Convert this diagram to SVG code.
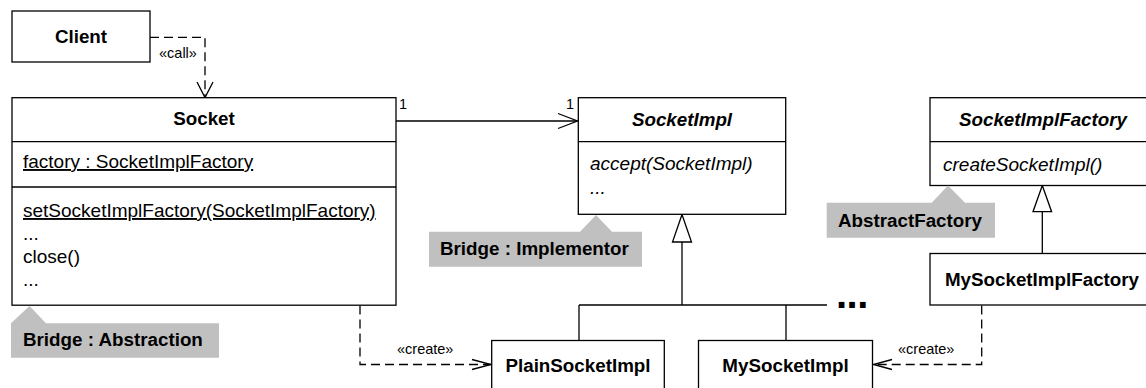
<svg xmlns="http://www.w3.org/2000/svg" width="1146" height="388" viewBox="0 0 1146 388">
  <style>
    .box { fill: #fff; stroke: #000; stroke-width: 1.3; }
    .sep { stroke: #000; stroke-width: 1.3; }
    .note { fill: #c0c0c0; stroke: none; }
    .line { fill: none; stroke: #000; stroke-width: 1.3; }
    .dash { fill: none; stroke: #000; stroke-width: 1.3; stroke-dasharray: 9 5; }
    .head { fill: none; stroke: #000; stroke-width: 1.3; stroke-linejoin: miter; }
    .tri { fill: #fff; stroke: #000; stroke-width: 1.3; }
    text { font-family: "Liberation Sans", Arial, sans-serif; fill: #000; }
    .title { font-size: 18.8px; font-weight: bold; text-anchor: middle; }
    .abstract { font-style: italic; }
    .member { font-size: 19px; }
    .ital { font-style: italic; }
    .static { text-decoration: underline; }
    .small { font-size: 14.5px; }
    .notetext { font-size: 18.8px; font-weight: bold; }
  </style>

  <!-- connectors -->
  <g id="connectors">
    <!-- Client -> Socket «call» -->
    <polyline class="dash" points="150,37.3 205,37.3 205,97"/>
    <polyline class="head" points="197,82 205,97.5 213,82"/>
    <text class="small" x="159" y="58">«call»</text>

    <!-- Socket -> SocketImpl association -->
    <line class="line" x1="396" y1="121" x2="577.5" y2="121"/>
    <polyline class="head" points="558,113.5 577.5,121 558,128.5"/>
    <text class="small" x="399" y="109">1</text>
    <text class="small" x="566" y="109">1</text>

    <!-- SocketImpl generalization tree -->
    <polygon class="tri" points="682,214.5 672.5,242 691.5,242"/>
    <line class="line" x1="682" y1="242" x2="682" y2="305"/>
    <line class="line" x1="579" y1="305" x2="827" y2="305"/>
    <line class="line" x1="579" y1="305" x2="579" y2="340.5"/>
    <line class="line" x1="786" y1="305" x2="786" y2="340.5"/>
    <text x="836" y="307.5" style="font-size:40px;font-weight:bold;letter-spacing:-0.5px">...</text>

    <!-- SocketImplFactory generalization -->
    <polygon class="tri" points="1042.3,185.5 1033,211.7 1051.6,211.7"/>
    <line class="line" x1="1042.3" y1="211.7" x2="1042.3" y2="253.5"/>

    <!-- Socket creates PlainSocketImpl -->
    <polyline class="dash" points="360,305.5 360,364.5 490.5,364.5"/>
    <polyline class="head" points="472,359.5 491,364.5 472,369.5"/>
    <text class="small" x="397" y="354">«create»</text>

    <!-- MySocketImplFactory creates MySocketImpl -->
    <polyline class="dash" points="981.7,305.5 981.7,364.5 874,364.5"/>
    <polyline class="head" points="892,359.5 873.5,364.5 892,369.5"/>
    <text class="small" x="898" y="354">«create»</text>
  </g>

  <!-- Client -->
  <g id="client">
    <rect class="box" x="12" y="11" width="138" height="51"/>
    <text class="title" x="81" y="43">Client</text>
  </g>

  <!-- Socket -->
  <g id="socket">
    <rect class="box" x="12" y="97.7" width="384" height="207.5"/>
    <line class="sep" x1="12" y1="141.7" x2="396" y2="141.7"/>
    <line class="sep" x1="12" y1="187" x2="396" y2="187"/>
    <text class="title" x="204" y="125">Socket</text>
    <text class="member static" x="23" y="168">factory : SocketImplFactory</text>
    <text class="member static" x="23" y="217">setSocketImplFactory(SocketImplFactory)</text>
    <text class="member" x="23" y="240">...</text>
    <text class="member" x="23" y="263">close()</text>
    <text class="member" x="23" y="286">...</text>
  </g>

  <!-- SocketImpl -->
  <g id="socketimpl">
    <rect class="box" x="578.3" y="97.7" width="207.4" height="116.6"/>
    <line class="sep" x1="578.3" y1="141.7" x2="785.7" y2="141.7"/>
    <text class="title abstract" x="682" y="126">SocketImpl</text>
    <text class="member ital" x="590" y="170">accept(SocketImpl)</text>
    <text class="member ital" x="590" y="194">...</text>
  </g>

  <!-- SocketImplFactory -->
  <g id="socketimplfactory">
    <rect class="box" x="930" y="97.7" width="230" height="87.8"/>
    <line class="sep" x1="930" y1="141.7" x2="1160" y2="141.7"/>
    <text class="title abstract" x="1043" y="126">SocketImplFactory</text>
    <text class="member ital" x="943" y="171">createSocketImpl()</text>
  </g>

  <!-- MySocketImplFactory -->
  <g id="mysocketimplfactory">
    <rect class="box" x="930" y="253.5" width="230" height="51.5"/>
    <text class="title" x="1042" y="286">MySocketImplFactory</text>
  </g>

  <!-- PlainSocketImpl -->
  <g id="plainsocketimpl">
    <rect class="box" x="491.7" y="340.5" width="172.6" height="60"/>
    <text class="title" x="578" y="372">PlainSocketImpl</text>
  </g>

  <!-- MySocketImpl -->
  <g id="mysocketimpl">
    <rect class="box" x="698.5" y="340.5" width="174" height="60"/>
    <text class="title" x="785.5" y="372">MySocketImpl</text>
  </g>

  <!-- pattern role notes -->
  <g id="note-abstraction">
    <polygon class="note" points="11,357.7 11,323.3 29.5,306 46,323.3 219,323.3 219,357.7"/>
    <text class="notetext" x="23" y="346">Bridge : Abstraction</text>
  </g>
  <g id="note-implementor">
    <polygon class="note" points="429,266.7 429,231.7 580,231.7 596,215 612,231.7 642,231.7 642,266.7"/>
    <text class="notetext" x="440" y="255">Bridge : Implementor</text>
  </g>
  <g id="note-abstractfactory">
    <polygon class="note" points="826.7,237.7 826.7,202.7 931.7,202.7 948,185.5 965,202.7 995,202.7 995,237.7"/>
    <text class="notetext" x="838" y="227">AbstractFactory</text>
  </g>
</svg>
